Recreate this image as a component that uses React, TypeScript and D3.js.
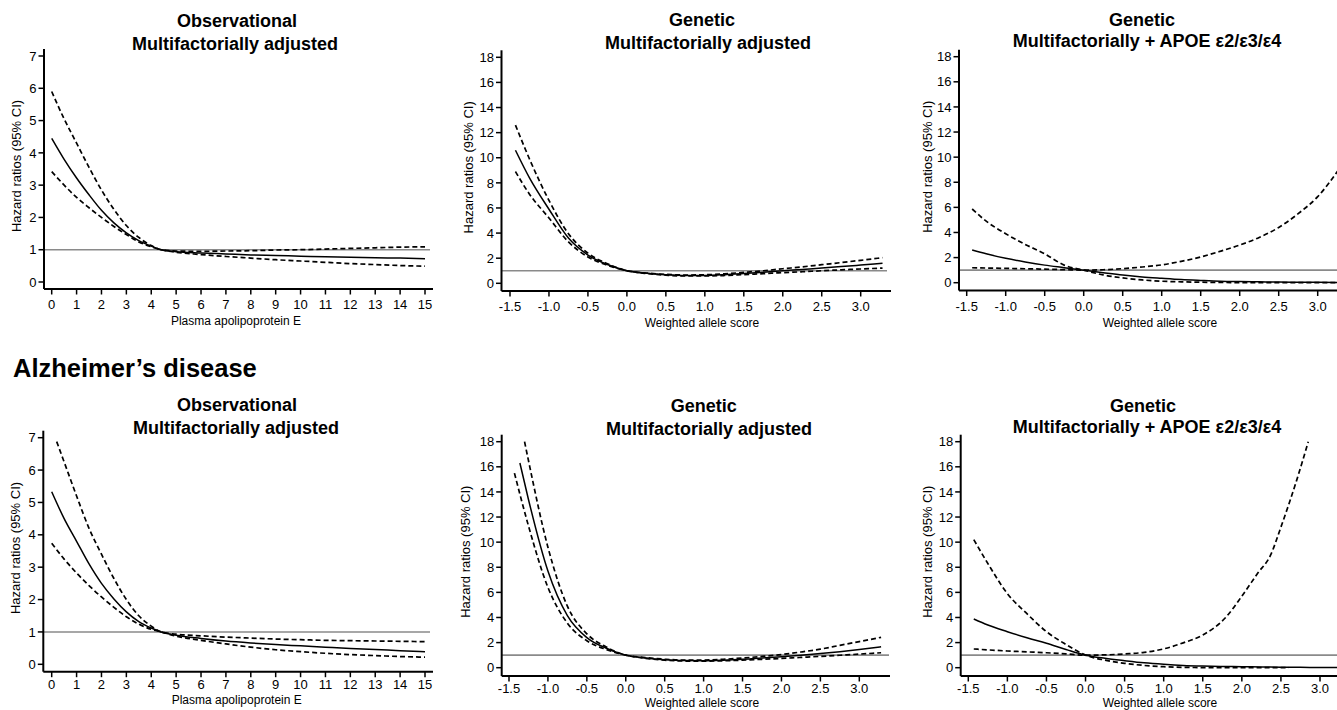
import * as d3 from "d3";

const FONT = "'Liberation Sans', Arial, Helvetica, sans-serif";

// tick labels
const apoeTicks = [0, 1, 2, 3, 4, 5, 6, 7, 8, 9, 10, 11, 12, 13, 14, 15];
const alleleTicks = [-1.5, -1.0, -0.5, 0, 0.5, 1.0, 1.5, 2.0, 2.5, 3.0];
const hrTicksObs = [0, 1, 2, 3, 4, 5, 6, 7];
const hrTicksGen = [0, 2, 4, 6, 8, 10, 12, 14, 16, 18];

// x grids
const obsX = [0, 0.5, 1, 1.5, 2, 2.5, 3, 3.5, 4, 4.4, 5, 6, 7, 8, 9, 10, 11, 12, 13, 14, 15];
const obsXLate = [0.2, 0.5, 1, 1.5, 2, 2.5, 3, 3.5, 4, 4.4, 5, 6, 7, 8, 9, 10, 11, 12, 13, 14, 15];
const genX = [-1.43, -1.25, -1, -0.75, -0.5, -0.25, 0, 0.25, 0.5, 0.75, 1, 1.25, 1.5, 1.75, 2, 2.25, 2.5, 2.75, 3, 3.28];

// dementia, observational
const demObsHR = [4.45, 3.8, 3.22, 2.7, 2.22, 1.83, 1.52, 1.28, 1.11, 1.0, 0.94, 0.9, 0.87, 0.84, 0.82, 0.8, 0.78, 0.77, 0.75, 0.74, 0.72];
const demObsHi = [5.9, 5.05, 4.3, 3.55, 2.85, 2.25, 1.75, 1.38, 1.13, 1.0, 0.96, 0.95, 0.96, 0.97, 0.99, 1.0, 1.02, 1.04, 1.06, 1.08, 1.09];
const demObsLo = [3.42, 3.0, 2.62, 2.3, 2.0, 1.72, 1.47, 1.24, 1.09, 1.0, 0.92, 0.85, 0.79, 0.74, 0.69, 0.65, 0.61, 0.57, 0.54, 0.51, 0.49];

// dementia, genetic multifactorially adjusted
const demGenHR = [10.6, 8.4, 5.9, 3.6, 2.25, 1.5, 1.0, 0.8, 0.68, 0.62, 0.63, 0.69, 0.78, 0.88, 1.0, 1.1, 1.22, 1.33, 1.45, 1.59];
const demGenHi = [12.6, 9.9, 6.6, 3.95, 2.4, 1.56, 1.0, 0.82, 0.71, 0.66, 0.68, 0.75, 0.87, 1.0, 1.16, 1.31, 1.48, 1.65, 1.83, 2.04];
const demGenLo = [8.9, 7.1, 5.2, 3.3, 2.1, 1.44, 1.0, 0.78, 0.65, 0.58, 0.58, 0.62, 0.69, 0.77, 0.85, 0.92, 1.0, 1.07, 1.14, 1.21];

// dementia, genetic + APOE
const demApoeHR = [2.6, 2.3, 1.94, 1.65, 1.4, 1.2, 1.0, 0.8, 0.61, 0.46, 0.35, 0.25, 0.18, 0.12, 0.09, 0.07, 0.05, 0.04, 0.03, 0.02];
const demApoeA = [5.87, 4.9, 3.9, 3.05, 2.3, 1.4, 1.0, 0.62, 0.38, 0.22, 0.12, 0.07, 0.04, 0.02, 0.01, 0.01, 0, 0, 0, 0];
const demApoeB = [1.19, 1.17, 1.14, 1.11, 1.08, 1.04, 1.0, 1.03, 1.12, 1.25, 1.42, 1.7, 2.05, 2.5, 3.0, 3.6, 4.4, 5.5, 6.85, 9.1];

// Alzheimer's, observational
const adObsHR = [5.33, 4.5, 3.8, 3.1, 2.5, 2.02, 1.62, 1.32, 1.12, 1.0, 0.9, 0.8, 0.72, 0.66, 0.61, 0.57, 0.53, 0.49, 0.46, 0.42, 0.39];
const adObsHi = [6.88, 6.25, 5.2, 4.2, 3.4, 2.65, 2.0, 1.5, 1.18, 1.0, 0.93, 0.88, 0.84, 0.81, 0.78, 0.76, 0.74, 0.73, 0.72, 0.71, 0.7];
const adObsLo = [3.74, 3.25, 2.82, 2.43, 2.08, 1.76, 1.47, 1.24, 1.08, 1.0, 0.87, 0.74, 0.63, 0.53, 0.45, 0.39, 0.34, 0.3, 0.27, 0.24, 0.22];

// Alzheimer's, genetic multifactorially adjusted
const adGenHRX = [-1.36, -1.25, -1, -0.75, -0.5, -0.25, 0, 0.25, 0.5, 0.75, 1, 1.25, 1.5, 1.75, 2, 2.25, 2.5, 2.75, 3, 3.28];
const adGenHR = [16.3, 13.4, 7.7, 4.15, 2.4, 1.55, 1.0, 0.78, 0.64, 0.57, 0.56, 0.6, 0.67, 0.77, 0.88, 1.0, 1.13, 1.28, 1.45, 1.67];
const adGenHiX = [-1.3, -1.25, -1, -0.75, -0.5, -0.25, 0, 0.25, 0.5, 0.75, 1, 1.25, 1.5, 1.75, 2, 2.25, 2.5, 2.75, 3, 3.28];
const adGenHi = [18, 16.5, 9.6, 4.9, 2.7, 1.65, 1.0, 0.81, 0.68, 0.61, 0.61, 0.67, 0.77, 0.9, 1.05, 1.25, 1.48, 1.78, 2.08, 2.42];
const adGenLo = [15.5, 11.3, 6.4, 3.55, 2.15, 1.45, 1.0, 0.75, 0.6, 0.53, 0.52, 0.55, 0.6, 0.67, 0.74, 0.82, 0.9, 0.99, 1.08, 1.19];

// Alzheimer's, genetic + APOE
const adApoeHR = [3.88, 3.4, 2.87, 2.38, 1.94, 1.45, 1.0, 0.75, 0.56, 0.39, 0.27, 0.18, 0.13, 0.1, 0.08, 0.06, 0.04, 0.03, 0.02, 0.01];
const adApoeAX = [-1.43, -1.25, -1, -0.75, -0.5, -0.25, 0, 0.25, 0.5, 0.75, 1, 1.25, 1.5, 1.75, 2, 2.25, 2.6];
const adApoeA = [10.2, 8.3, 5.9, 4.3, 2.87, 1.85, 1.0, 0.6, 0.35, 0.18, 0.08, 0.03, 0.01, 0, 0, 0, 0];
const adApoeBX = [-1.43, -1.25, -1, -0.75, -0.5, -0.25, 0, 0.25, 0.5, 0.75, 1, 1.25, 1.5, 1.8, 2, 2.2, 2.37, 2.5, 2.7, 2.85];
const adApoeB = [1.49, 1.42, 1.33, 1.26, 1.19, 1.1, 1.0, 1.02, 1.1, 1.22, 1.5, 1.98, 2.6, 4.05, 5.7, 7.5, 9.0, 11.2, 14.9, 18];

type Series = { x: number[]; y: number[]; dashed?: boolean };

type PanelCfg = {
  title: [string, string];
  titleX: [number, number];
  titleY: [number, number];
  xLabel: string;
  xLabelX: number;
  xLabelDy: number;
  tickDy: number;
  xTicks: number[];
  yTicks: number[];
  axisX: number;
  axisY: number;
  axisRight: number;
  refRight: number;
  xFirst: number;
  xLast: number;
  yTop: number;
  yBot: number;
  yLabelX: number;
  decimals: number;
  series: Series[];
};

const panels: PanelCfg[] = [
  {
    title: ["Observational", "Multifactorially adjusted"],
    titleX: [237, 235], titleY: [26.7, 50],
    xLabel: "Plasma apolipoprotein E", xLabelX: 236, xLabelDy: 36, tickDy: 20,
    xTicks: apoeTicks, yTicks: hrTicksObs,
    axisX: 44, axisY: 289, axisRight: 433, refRight: 430,
    xFirst: 51.7, xLast: 425, yTop: 56, yBot: 282, yLabelX: 16.7, decimals: 0,
    series: [
      { x: obsX, y: demObsHR },
      { x: obsX, y: demObsHi, dashed: true },
      { x: obsX, y: demObsLo, dashed: true },
    ],
  },
  {
    title: ["Genetic", "Multifactorially adjusted"],
    titleX: [702, 708], titleY: [26, 49],
    xLabel: "Weighted allele score", xLabelX: 702, xLabelDy: 36, tickDy: 20,
    xTicks: alleleTicks, yTicks: hrTicksGen,
    axisX: 501.5, axisY: 291, axisRight: 891, refRight: 887,
    xFirst: 510, xLast: 860.7, yTop: 57.3, yBot: 283.3, yLabelX: 468, decimals: 1,
    series: [
      { x: genX, y: demGenHR },
      { x: genX, y: demGenHi, dashed: true },
      { x: genX, y: demGenLo, dashed: true },
    ],
  },
  {
    title: ["Genetic", "Multifactorially + APOE \u03b52/\u03b53/\u03b54"],
    titleX: [1142, 1147], titleY: [26, 46.7],
    xLabel: "Weighted allele score", xLabelX: 1160, xLabelDy: 36, tickDy: 20,
    xTicks: alleleTicks, yTicks: hrTicksGen,
    axisX: 959, axisY: 290.5, axisRight: 1345, refRight: 1345,
    xFirst: 966.7, xLast: 1317.7, yTop: 56.7, yBot: 282.7, yLabelX: 927, decimals: 1,
    series: [
      { x: genX, y: demApoeHR },
      { x: genX, y: demApoeA, dashed: true },
      { x: genX, y: demApoeB, dashed: true },
    ],
  },
  {
    title: ["Observational", "Multifactorially adjusted"],
    titleX: [237, 236], titleY: [410.7, 434.3],
    xLabel: "Plasma apolipoprotein E", xLabelX: 236.7, xLabelDy: 32, tickDy: 17.5,
    xTicks: apoeTicks, yTicks: hrTicksObs,
    axisX: 43.3, axisY: 671.7, axisRight: 433, refRight: 430,
    xFirst: 51.7, xLast: 425, yTop: 437.7, yBot: 664.3, yLabelX: 15, decimals: 0,
    series: [
      { x: obsX, y: adObsHR },
      { x: obsXLate, y: adObsHi, dashed: true },
      { x: obsX, y: adObsLo, dashed: true },
    ],
  },
  {
    title: ["Genetic", "Multifactorially adjusted"],
    titleX: [703.7, 709], titleY: [411.7, 435],
    xLabel: "Weighted allele score", xLabelX: 702, xLabelDy: 31, tickDy: 17,
    xTicks: alleleTicks, yTicks: hrTicksGen,
    axisX: 501.7, axisY: 676, axisRight: 890, refRight: 889,
    xFirst: 509, xLast: 859.3, yTop: 441.7, yBot: 667.7, yLabelX: 465, decimals: 1,
    series: [
      { x: adGenHRX, y: adGenHR },
      { x: adGenHiX, y: adGenHi, dashed: true },
      { x: genX, y: adGenLo, dashed: true },
    ],
  },
  {
    title: ["Genetic", "Multifactorially + APOE \u03b52/\u03b53/\u03b54"],
    titleX: [1143, 1147], titleY: [411.7, 432.7],
    xLabel: "Weighted allele score", xLabelX: 1160, xLabelDy: 31, tickDy: 17,
    xTicks: alleleTicks, yTicks: hrTicksGen,
    axisX: 960.7, axisY: 676, axisRight: 1345, refRight: 1345,
    xFirst: 968.3, xLast: 1320, yTop: 441.7, yBot: 667.7, yLabelX: 927, decimals: 1,
    series: [
      { x: genX, y: adApoeHR },
      { x: adApoeAX, y: adApoeA, dashed: true },
      { x: adApoeBX, y: adApoeB, dashed: true },
    ],
  },
];

function Panel({ cfg }: { cfg: PanelCfg }) {
  const xs = cfg.xTicks;
  const ys = cfg.yTicks;
  const x = d3.scaleLinear().domain([xs[0], xs[xs.length - 1]]).range([cfg.xFirst, cfg.xLast]);
  const y = d3.scaleLinear().domain([ys[0], ys[ys.length - 1]]).range([cfg.yBot, cfg.yTop]);
  const line = d3
    .line<[number, number]>()
    .x((d) => x(d[0]))
    .y((d) => y(d[1]))
    .curve(d3.curveMonotoneX);

  return (
    <g fontFamily={FONT}>
      {/* titles */}
      <text x={cfg.titleX[0]} y={cfg.titleY[0]} textAnchor="middle" fontWeight="bold" fontSize={18}>
        {cfg.title[0]}
      </text>
      <text x={cfg.titleX[1]} y={cfg.titleY[1]} textAnchor="middle" fontWeight="bold" fontSize={18}>
        {cfg.title[1]}
      </text>

      {/* reference line at HR = 1 */}
      <line x1={cfg.axisX} x2={cfg.refRight} y1={y(1)} y2={y(1)} stroke="#8a8a8a" strokeWidth={1.6} />

      {/* curves */}
      {cfg.series.map((s, i) => (
        <path
          key={i}
          d={line(s.x.map((v, j) => [v, s.y[j]] as [number, number])) || ""}
          fill="none"
          stroke="#000"
          strokeWidth={s.dashed ? 1.7 : 1.5}
          strokeDasharray={s.dashed ? "5,3" : undefined}
        />
      ))}

      {/* axes */}
      <line x1={cfg.axisX} x2={cfg.axisX} y1={cfg.yTop - 7} y2={cfg.axisY} stroke="#000" strokeWidth={2} />
      <line x1={cfg.axisX} x2={cfg.axisRight} y1={cfg.axisY} y2={cfg.axisY} stroke="#000" strokeWidth={2} />

      {ys.map((t) => (
        <g key={"y" + t}>
          <line x1={cfg.axisX - 5.5} x2={cfg.axisX} y1={y(t)} y2={y(t)} stroke="#000" strokeWidth={1.5} />
          <text x={cfg.axisX - 7.5} y={y(t)} dy="0.36em" textAnchor="end" fontSize={13}>
            {t}
          </text>
        </g>
      ))}
      {xs.map((t) => (
        <g key={"x" + t}>
          <line x1={x(t)} x2={x(t)} y1={cfg.axisY} y2={cfg.axisY + 5.5} stroke="#000" strokeWidth={1.5} />
          <text x={x(t)} y={cfg.axisY + cfg.tickDy} textAnchor="middle" fontSize={13}>
            {t.toFixed(cfg.decimals)}
          </text>
        </g>
      ))}

      <text x={cfg.xLabelX} y={cfg.axisY + cfg.xLabelDy} textAnchor="middle" fontSize={12}>
        {cfg.xLabel}
      </text>
      <text
        transform={`translate(${cfg.yLabelX},${(cfg.yTop + cfg.yBot) / 2 - 3}) rotate(-90)`}
        textAnchor="middle"
        dy="0.36em"
        fontSize={13}
      >
        Hazard ratios (95% CI)
      </text>
    </g>
  );
}

export default function App() {
  return (
    <svg
      width={1337}
      height={710}
      style={{ position: "absolute", left: 0, top: 0, background: "#fff" }}
    >
      <rect width={1337} height={710} fill="#fff" />
      {panels.map((p, i) => (
        <Panel key={i} cfg={p} />
      ))}
      <text x={13} y={377} fontFamily={FONT} fontWeight="bold" fontSize={25.5}>
        Alzheimer’s disease
      </text>
    </svg>
  );
}
